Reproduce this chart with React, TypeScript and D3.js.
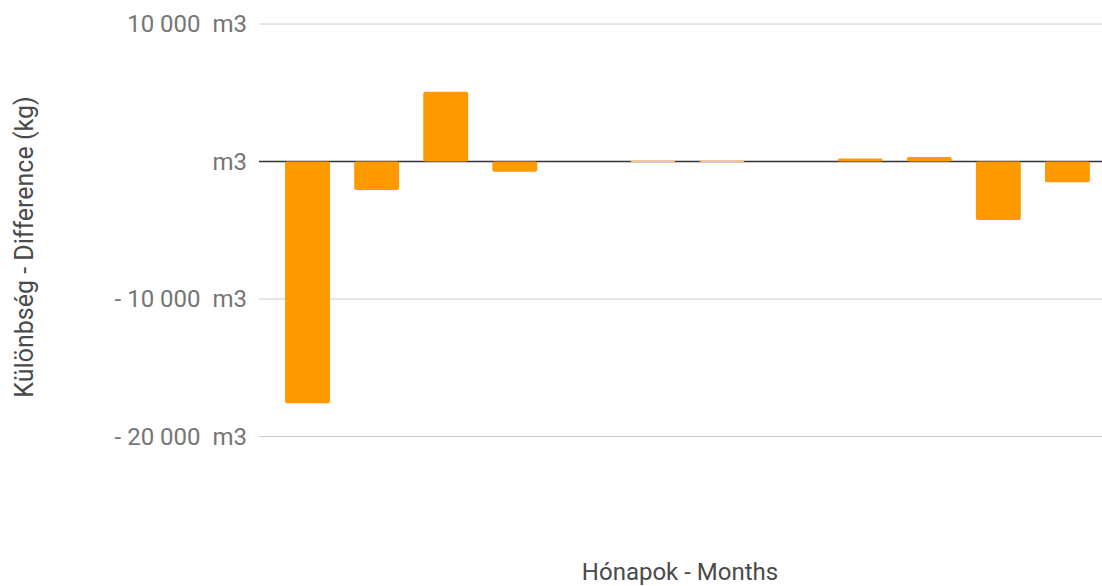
import { useEffect, useRef } from 'react';
import * as d3 from 'd3';

const months = ['1', '2', '3', '4', '5', '6', '7', '8', '9', '10', '11', '12'];
const difference = [-17590, -2080, 5080, -750, 0, 70, 70, 0, 220, 320, -4250, -1510];
const yTicks = [10000, 0, -10000, -20000];

const fmtTick = (v: number) => {
  if (v === 0) return 'm3';
  const s = d3.format(',')(Math.abs(v)).replace(/,/g, ' ');
  return (v < 0 ? '- ' : '') + s + '  m3';
};

function App() {
  const svgRef = useRef<SVGSVGElement>(null);

  useEffect(() => {
    const svg = d3.select(svgRef.current);
    svg.selectAll('*').remove();

    const x = d3.scaleBand().domain(months).range([273, 1102]).paddingInner(0.35).paddingOuter(0.175);
    const y = d3.scaleLinear().domain([-20000, 10000]).range([436.5, 24]);

    svg
      .append('g')
      .selectAll('line')
      .data(yTicks.filter(t => t !== 0))
      .join('line')
      .attr('x1', 259)
      .attr('x2', 1102)
      .attr('y1', d => y(d))
      .attr('y2', d => y(d))
      .attr('stroke', '#cccccc')
      .attr('stroke-width', 1);

    svg
      .append('g')
      .selectAll('text')
      .data(yTicks)
      .join('text')
      .attr('x', 247)
      .attr('y', d => y(d))
      .attr('dy', '0.35em')
      .attr('text-anchor', 'end')
      .attr('font-family', 'Roboto')
      .attr('font-size', 24)
      .attr('fill', '#757575')
      .style('white-space', 'pre')
      .text(d => fmtTick(d));

    // zero baseline, drawn under the bars
    svg
      .append('line')
      .attr('x1', 259)
      .attr('x2', 1102)
      .attr('y1', y(0))
      .attr('y2', y(0))
      .attr('stroke', '#333333')
      .attr('stroke-width', 1.5);

    svg
      .append('g')
      .selectAll('rect')
      .data(difference.map((v, i) => ({ m: months[i], v })).filter(d => d.v !== 0))
      .join('rect')
      .attr('x', d => x(d.m)!)
      .attr('width', x.bandwidth())
      .attr('y', d => Math.min(y(0), y(d.v)))
      .attr('height', d => Math.max(1.5, Math.abs(y(d.v) - y(0))))
      .attr('rx', 2)
      .attr('fill', d => (Math.abs(d.v) < 100 ? '#ffc870' : '#ff9900'));

    svg
      .append('text')
      .attr('x', 680)
      .attr('y', 580)
      .attr('text-anchor', 'middle')
      .attr('font-family', 'Roboto')
      .attr('font-size', 24)
      .attr('fill', '#4a4a4a')
      .text('Hónapok - Months');

    svg
      .append('text')
      .attr('transform', 'translate(33,247) rotate(-90)')
      .attr('text-anchor', 'middle')
      .attr('font-family', 'Roboto')
      .attr('font-size', 25)
      .attr('fill', '#4a4a4a')
      .text('Különbség - Difference (kg)');
  }, []);

  return (
    <svg
      ref={svgRef}
      width={1102}
      height={586}
      style={{ position: 'absolute', left: 0, top: 0, background: '#fff' }}
    />
  );
}

export default App;
